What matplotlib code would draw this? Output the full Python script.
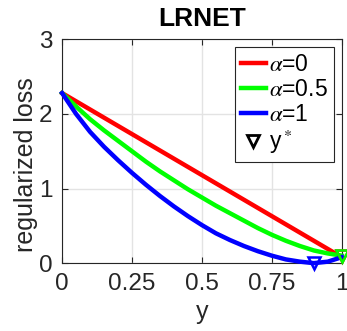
import matplotlib
matplotlib.use('Agg')
import matplotlib.pyplot as plt
import numpy as np

# 数据
y_vals = [0, 0.05, 0.1, 0.15, 0.2, 0.25, 0.3, 0.35, 0.4, 0.45, 0.5,
          0.55, 0.6, 0.65, 0.7, 0.75, 0.8, 0.85, 0.9, 0.95, 1.0]
loss_a0 = [2.28, 2.17, 2.06, 1.95, 1.84, 1.73, 1.62, 1.51, 1.40, 1.29, 1.18,
           1.07, 0.96, 0.85, 0.74, 0.63, 0.52, 0.41, 0.30, 0.19, 0.08]
loss_a05 = [2.28, 2.10, 1.93, 1.78, 1.64, 1.50, 1.36, 1.23, 1.11, 0.99, 0.88,
            0.77, 0.67, 0.57, 0.47, 0.38, 0.30, 0.23, 0.17, 0.13, 0.10]
loss_a1 = [2.28, 2.00, 1.76, 1.56, 1.38, 1.21, 1.05, 0.90, 0.76, 0.63, 0.51,
           0.40, 0.31, 0.23, 0.16, 0.10, 0.05, 0.02, 0.0, 0.02, 0.08]
labels = [r'$\alpha$=0', r'$\alpha$=0.5', r'$\alpha$=1']
colors = ['#ff0000', '#00ff00', '#0000ff']
y_star = [1.0, 1.0, 0.9]
loss_star = [0.1, 0.1, 0.0]

xticks = [0, 0.25, 0.5, 0.75, 1]
xticklabels = ['0', '0.25', '0.5', '0.75', '1']
yticks = [0, 1, 2, 3]

plt.rcParams['font.family'] = ['Liberation Sans', 'DejaVu Sans']
plt.rcParams['mathtext.fontset'] = 'stix'

fig = plt.figure(figsize=(3.47, 3.31), dpi=100)
ax = fig.add_axes([0.179, 0.205, 0.806, 0.676])

for vals, lab, c in zip([loss_a0, loss_a05, loss_a1], labels, colors):
    ax.plot(y_vals, vals, color=c, lw=3.2, label=lab, clip_on=False, zorder=3,
            solid_joinstyle='round')

# y* 标记
for xs, ls, c in zip(y_star, loss_star, colors):
    ax.plot(xs, ls, 'v', ms=8, mfc='none', mec=c, mew=1.8, clip_on=False, zorder=4)
ax.plot([], [], 'v', ms=8, mfc='none', mec='black', mew=2, ls='none', label=r'y$^*$')

ax.set_xlim(0, 1)
ax.set_ylim(0, 3)
ax.set_xticks(xticks)
ax.set_xticklabels(xticklabels)
ax.set_yticks(yticks)
ax.grid(True, color='#e3e3e3', lw=1)
ax.set_axisbelow(True)
ax.tick_params(direction='in', length=4, width=0.8, colors='#262626',
               labelsize=17.5, top=True, right=True, pad=7)
for s in ax.spines.values():
    s.set_color('#262626')
    s.set_linewidth(0.8)

ax.set_title('LRNET', fontsize=19, fontweight='bold', pad=10)
ax.set_xlabel('y', fontsize=18, color='#262626', labelpad=4)
ax.set_ylabel('regularized loss', fontsize=18, color='#262626')
ax.yaxis.set_label_coords(-0.085, 0.44)

leg = ax.legend(loc='upper right', fontsize=16.5, handlelength=1.1, handletextpad=0.15,
                borderaxespad=0.35, labelspacing=0.08, borderpad=0.25, fancybox=False,
                framealpha=1, edgecolor='#262626')
leg.get_frame().set_linewidth(0.8)

plt.savefig('out.png', dpi=100)
